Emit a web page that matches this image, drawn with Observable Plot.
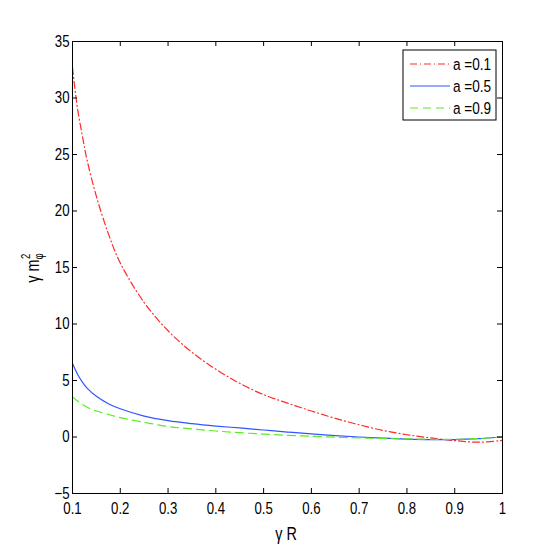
<!DOCTYPE html>
<html>
<head>
<meta charset="utf-8">
<script src="https://cdn.jsdelivr.net/npm/d3@7"></script>
<script src="https://cdn.jsdelivr.net/npm/@observablehq/plot@0.6"></script>
<style>
  html, body { margin: 0; padding: 0; background: #fff; }
  #chart svg { display: block; }
</style>
</head>
<body>
<div id="chart"></div>
<script>
// ---- data ----
const xValues = [0.1, 0.11, 0.12, 0.13, 0.15, 0.175, 0.2, 0.25, 0.3, 0.35, 0.4, 0.45, 0.5, 0.55, 0.6, 0.65, 0.7, 0.75, 0.8, 0.85, 0.9, 0.95, 1.0];
const seriesA01 = [32.7, 29.2, 26.8, 24.6, 21.3, 18.0, 15.4, 11.9, 9.4, 7.5, 6.0, 4.75, 3.75, 3.0, 2.3, 1.65, 1.08, 0.58, 0.2, -0.08, -0.32, -0.46, -0.3];
const seriesA05 = [6.5, 5.6, 4.9, 4.35, 3.6, 2.95, 2.5, 1.85, 1.45, 1.18, 0.97, 0.8, 0.62, 0.44, 0.27, 0.12, 0.0, -0.1, -0.18, -0.23, -0.23, -0.15, 0.0];
const seriesA09 = [3.55, 3.2, 2.9, 2.65, 2.3, 2.0, 1.72, 1.3, 0.93, 0.71, 0.53, 0.38, 0.26, 0.15, 0.06, -0.02, -0.08, -0.13, -0.17, -0.2, -0.2, -0.14, 0.0];
const legendLabels = ["a =0.1", "a =0.5", "a =0.9"];
const xTicks = [0.1, 0.2, 0.3, 0.4, 0.5, 0.6, 0.7, 0.8, 0.9, 1];
const yTicks = [-5, 0, 5, 10, 15, 20, 25, 30, 35];

// ---- styles ----
const colors = ["#ff2a2a", "#3355ff", "#55ee22"];
const dashes = ["7,3,1,3", null, "8,5"];
const fontFamily = "'Liberation Sans', Arial, sans-serif";
const narrow = "scale(0.8,1)";

const W = 554, H = 554;
const mt = 41, mb = 61, ml = 72, mr = 52;
const pw = W - ml - mr, ph = H - mt - mb;

const rows = (ys) => xValues.map((x, i) => ({x, y: ys[i]}));
const all = [seriesA01, seriesA05, seriesA09];

const plot = Plot.plot({
  width: W,
  height: H,
  marginTop: mt, marginBottom: mb, marginLeft: ml, marginRight: mr,
  style: {fontFamily, fontSize: "16px", color: "black", background: "white"},
  x: {domain: [0.1, 1]},
  y: {domain: [-5, 35]},
  marks: [
    ...all.map((ys, i) => Plot.line(rows(ys), {
      x: "x", y: "y", curve: "catmull-rom",
      stroke: colors[i], strokeWidth: 1.2,
      strokeDasharray: dashes[i]
    })),
    Plot.frame({stroke: "black", strokeWidth: 1}),
    // inward ticks on all four sides
    Plot.tickY(yTicks, {y: d => d, insetRight: pw - 5, stroke: "black"}),
    Plot.tickY(yTicks, {y: d => d, insetLeft: pw - 5, stroke: "black"}),
    Plot.tickX(xTicks, {x: d => d, insetTop: ph - 5, stroke: "black"}),
    Plot.tickX(xTicks, {x: d => d, insetBottom: ph - 5, stroke: "black"}),
    Plot.axisY({ticks: yTicks, tickSize: 0, tickPadding: 3, label: null, fontSize: 16.5}),
    Plot.axisX({ticks: xTicks, tickSize: 0, tickPadding: 9, label: null, fontSize: 16.5,
      tickFormat: d => String(d)})
  ]
});

document.getElementById("chart").appendChild(plot);

const svg = d3.select(plot);

// narrow the tick labels to resemble the condensed reference face
svg.selectAll("g[aria-label='y-axis tick label'] text, g[aria-label='x-axis tick label'] text")
  .each(function () {
    const t = this.getAttribute("transform") || "";
    this.setAttribute("transform", (t + " " + narrow).trim());
  });

// x label
svg.append("text")
  .attr("transform", `translate(286,540) ${narrow}`)
  .attr("text-anchor", "middle")
  .attr("font-family", fontFamily).attr("font-size", 18)
  .attr("fill", "black")
  .text("γ R");

// y label  γ m_φ^2
const yl = svg.append("text")
  .attr("transform", `translate(39,268) rotate(-90) ${narrow}`)
  .attr("text-anchor", "middle")
  .attr("font-family", fontFamily).attr("font-size", 18)
  .attr("fill", "black");
yl.append("tspan").text("γ m");
yl.append("tspan").attr("font-size", 12).attr("dy", 4).text("φ");
yl.append("tspan").attr("font-size", 12).attr("dx", -7).attr("dy", -13).text("2");

// legend
const lg = svg.append("g");
lg.append("rect")
  .attr("x", 403).attr("y", 50).attr("width", 93).attr("height", 70)
  .attr("fill", "white").attr("stroke", "black").attr("stroke-width", 1);
legendLabels.forEach((lab, i) => {
  const yy = 64 + i * 22;
  lg.append("line")
    .attr("x1", 410).attr("x2", 450).attr("y1", yy).attr("y2", yy)
    .attr("stroke", colors[i]).attr("stroke-width", 1.2)
    .attr("stroke-dasharray", dashes[i]);
  lg.append("text")
    .attr("transform", `translate(453,${yy}) ${narrow}`)
    .attr("dy", "0.35em")
    .attr("text-anchor", "start")
    .attr("font-family", fontFamily).attr("font-size", 17)
    .attr("fill", "black")
    .text(lab);
});
</script>
</body>
</html>
